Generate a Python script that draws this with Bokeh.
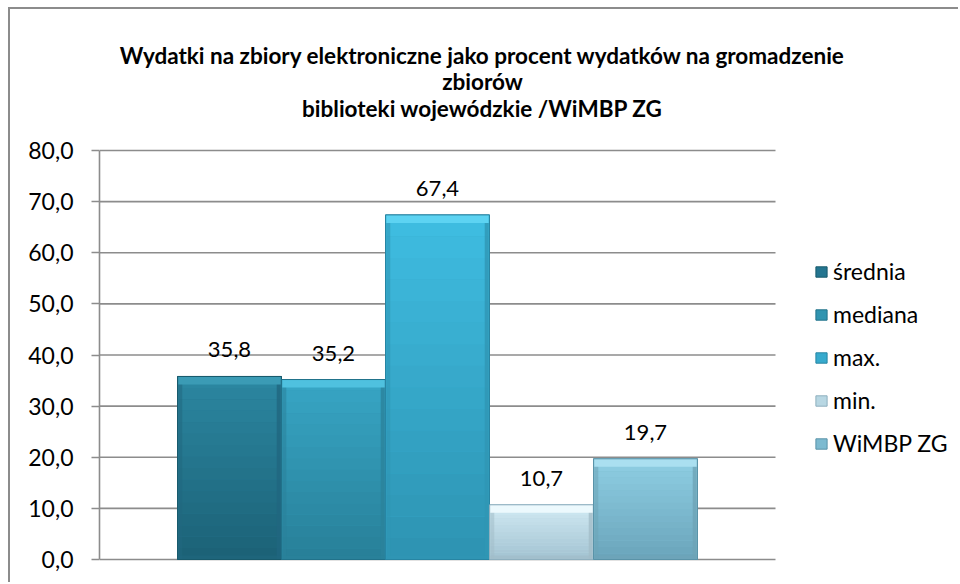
import numpy as np
from bokeh.plotting import figure
from bokeh.models import (Range1d, Label, LabelSet, ColumnDataSource, Legend,
                          LegendItem, CustomJSTickFormatter, FixedTicker)
from bokeh.embed import file_html
from bokeh.resources import INLINE
from bokeh.core.properties import value

# ---------------- data ----------------
categories = ["średnia", "mediana", "max.", "min.", "WiMBP ZG"]
values = [35.8, 35.2, 67.4, 10.7, 19.7]
y_ticks = [0, 10, 20, 30, 40, 50, 60, 70, 80]
title_lines = [
    "Wydatki na zbiory elektroniczne jako procent wydatków na gromadzenie",
    "zbiorów",
    "biblioteki wojewódzkie /WiMBP ZG",
]

# ---------------- style ----------------
top_colors = ["#2b87a1", "#38a6c5", "#3fbde1", "#d2ebf4", "#8fcfe4"]
bottom_colors = ["#1c6176", "#277f98", "#2d93b2", "#a2c2d1", "#6aa4ba"]
bevel_colors = ["#3b9bb5", "#4fc1df", "#5dd3f2", "#ecf9fd", "#aadff0"]
mid_colors = ["#247590", "#3094b0", "#37aacd", "#b8d7e3", "#7dbad0"]
edge_colors = ["#185a6c", "#21728a", "#2785a3", "#8eafbe", "#5a93a8"]
FONT = "Lato"
GRID = "#8c8c8c"

W, H = 950, 575            # canvas size
LEFT, BOTTOM = 89, 15      # space for the y axis / below the plot
PX_X = 104.0               # pixels per bar (x unit)
PX_Y = 409.0 / 80.0        # pixels per y unit
HALF_AREA = 3.25           # half width of the plotting area, in bar units
PAD_BOTTOM_PX = 10

frame_w = W - LEFT
frame_h = H - BOTTOM
xs = list(range(len(categories)))
x_mid = (xs[0] + xs[-1]) / 2
x_start = x_mid - HALF_AREA
y_start = -PAD_BOTTOM_PX / PX_Y

p = figure(width=W, height=H, output_backend="svg", toolbar_location=None,
           x_range=Range1d(x_start, x_start + frame_w / PX_X),
           y_range=Range1d(y_start, y_start + frame_h / PX_Y),
           min_border_left=LEFT, min_border_right=0, min_border_top=0,
           min_border_bottom=BOTTOM,
           styles={"margin-left": "8px", "margin-top": "7px",
                   "border-left": "2px solid #8c8c8c",
                   "border-top": "2px solid #8c8c8c"})
p.outline_line_color = None
p.background_fill_color = "white"
p.border_fill_color = "white"
p.xaxis.visible = False
p.xgrid.grid_line_color = None
p.ygrid.grid_line_color = None

yax = p.yaxis[0]
yax.ticker = FixedTicker(ticks=y_ticks)
yax.bounds = (y_ticks[0], y_ticks[-1])
yax.formatter = CustomJSTickFormatter(code="return tick.toFixed(1).replace('.', ',');")
yax.axis_line_color = GRID
yax.axis_line_width = 1.6
yax.major_tick_line_color = GRID
yax.major_tick_line_width = 1.6
yax.major_tick_out = 8
yax.major_tick_in = 0
yax.minor_tick_line_color = None
yax.major_label_text_font = FONT
yax.major_label_text_font_size = "23px"
yax.major_label_text_color = "black"
yax.major_label_standoff = 18

# horizontal gridlines limited to the plotting area
p.segment(x0=[x_start] * len(y_ticks), x1=[x_mid + HALF_AREA] * len(y_ticks),
          y0=y_ticks, y1=y_ticks, line_color=GRID, line_width=1.6)

# base bars (also used for legend)
src = ColumnDataSource(dict(x=xs, top=values, color=mid_colors, edge=edge_colors,
                            label=[f"{v:.1f}".replace(".", ",") for v in values]))
base = p.vbar(x="x", top="top", bottom=0, width=1.0, source=src,
              fill_color="color", line_color="edge", line_width=1)

# vertical gradient bands
N = 16
def hex2rgb(h):
    return np.array([int(h[i:i + 2], 16) for i in (1, 3, 5)], dtype=float)

def rgb2hex(c):
    return "#%02x%02x%02x" % tuple(int(round(min(255, max(0, t)))) for t in c)

gx, gb, gt, gc = [], [], [], []
for i, v in enumerate(values):
    c0, c1 = hex2rgb(bottom_colors[i]), hex2rgb(top_colors[i])
    for k in range(N):
        f = (k + 0.5) / N
        gx.append(xs[i])
        gb.append(v * k / N)
        gt.append(v * (k + 1) / N)
        gc.append(rgb2hex(c0 + (c1 - c0) * f))
p.vbar(x=gx, bottom=gb, top=gt, width=0.985, fill_color=gc, line_color=None)

# bevel: darker side and bottom strips, lighter top strip
side_w = 4 / PX_X
side_colors = [rgb2hex(hex2rgb(c) * 0.88) for c in mid_colors]
p.vbar(x=[x - 0.5 + side_w / 2 + 0.0075 for x in xs], bottom=0, top=values,
       width=side_w, fill_color=side_colors, fill_alpha=0.55, line_color=None)
p.vbar(x=[x + 0.5 - side_w / 2 - 0.0075 for x in xs], bottom=0, top=values,
       width=side_w, fill_color=side_colors, fill_alpha=0.8, line_color=None)
p.vbar(x=xs, bottom=0, top=[4 / PX_Y] * len(xs), width=0.985,
       fill_color=side_colors, fill_alpha=0.6, line_color=None)
bevel_units = 8 / PX_Y
p.vbar(x=xs, bottom=[v - bevel_units for v in values], top=values, width=0.985,
       fill_color=bevel_colors, line_color=None)
# edges
p.vbar(x=xs, bottom=0, top=values, width=1.0, fill_color=None,
       line_color=edge_colors, line_width=1)

# data labels
p.add_layout(LabelSet(x="x", y="top", text="label", source=src, y_offset=19,
                      text_align="center", text_baseline="alphabetic",
                      text_font=value(FONT), text_font_size="22px",
                      text_color="black"))

# title (screen px relative to plot-area left / bottom)
page_frame_left, page_frame_bottom = 10 + LEFT, 10 + H - BOTTOM
title_center_x = 482
title_y = [56, 82, 109]
for line, ty in zip(title_lines, title_y):
    p.add_layout(Label(x=title_center_x - page_frame_left, y=page_frame_bottom - ty,
                       x_units="screen", y_units="screen", text=line,
                       text_align="center", text_baseline="middle",
                       text_font=FONT, text_font_size="22.5px",
                       text_font_style="bold", text_color="black"))

# legend
items = [LegendItem(label=c, renderers=[base], index=i) for i, c in enumerate(categories)]
legend = Legend(items=items, location=(814 - page_frame_left, page_frame_bottom - 458))
legend.label_text_font = FONT
legend.label_text_font_size = "23px"
legend.label_text_color = "black"
legend.glyph_width = 14
legend.glyph_height = 13
legend.label_height = 20
legend.label_standoff = 5
legend.spacing = 15
legend.padding = 0
legend.margin = 0
legend.border_line_alpha = 0
legend.background_fill_alpha = 0
p.add_layout(legend)

open("out.html", "w").write(file_html(p, INLINE))
